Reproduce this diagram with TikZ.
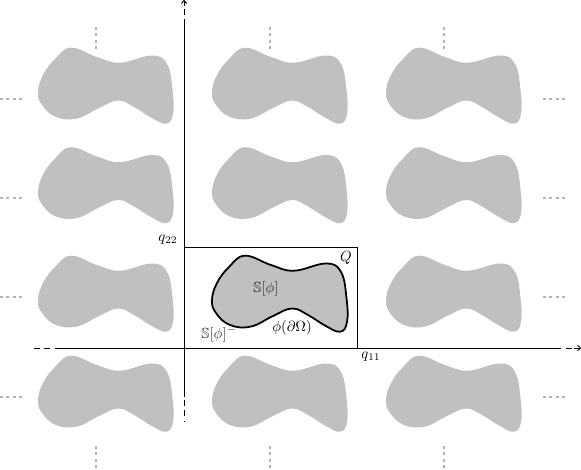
\documentclass[tikz,border=0pt]{standalone}
\usepackage{amssymb}
\usetikzlibrary{arrows.meta}
\definecolor{blobgray}{RGB}{192,192,192}
\definecolor{dotgray}{RGB}{180,180,180}
\tikzset{
  blob/.pic={\path[pic actions] plot[smooth cycle, tension=0.7] coordinates {(-1,42) (4,25) (16,9) (32,-2.3) (58,7) (81,12.7) (113,5.5) (128,14) (133.5,40) (134,64) (127,73.7) (112,67.5) (95,57) (79,50.5) (60,58) (38,68.5) (17,67) (3,55)};},
  greyblob/.style={fill=blobgray},
  mainblob/.style={fill=blobgray, draw=black, line width=1.2pt, line join=round},
  dotsline/.style={dotgray, line width=1.8pt, dash pattern=on 1.8pt off 2.6pt},
  axisline/.style={black, line width=0.6pt},
  axisdash/.style={black, line width=0.6pt, dash pattern=on 4pt off 3pt},
  lbl/.style={inner sep=0pt, font=\normalsize},
  slbl/.style={inner sep=0pt, text=black!80},
}
\begin{document}
\begin{tikzpicture}[x=0.68pt, y=-0.68pt]
\useasboundingbox (0,0) rectangle (581,469);
% periodic copies
\foreach \yy in {50,149.5,358}{
  \foreach \xx in {39,213,387}{
    \pic[greyblob] at (\xx,\yy) {blob};
  }
}
\pic[greyblob] at (39,258) {blob};
\pic[greyblob] at (387,258) {blob};
\pic[mainblob] at (213,258) {blob};
% ellipsis dots
\foreach \xx in {96,270,444}{
  \draw[dotsline] (\xx,27) -- (\xx,49);
  \draw[dotsline] (\xx,446) -- (\xx,468);
}
\foreach \yy in {99,198,297,397}{
  \draw[dotsline] (0,\yy) -- (22,\yy);
  \draw[dotsline] (543,\yy) -- (565,\yy);
}
% cell Q
\coordinate (Qtl) at (184,247);
\coordinate (Qbr) at (357,348);
\draw[axisline] (Qtl) rectangle (Qbr);
% horizontal axis
\coordinate (hL) at (34,348);
\coordinate (hS) at (55,348);
\coordinate (hE) at (561,348);
\coordinate (hD1) at (566,348);
\coordinate (hD2) at (572,348);
\coordinate (hA1) at (574,348);
\coordinate (hA) at (581,348);
\draw[axisdash] (hL) -- (hS);
\draw[axisline] (hS) -- (hE);
\draw[axisline] (hD1) -- (hD2);
\draw[axisline, -{To[length=2.5pt,width=4pt]}] (hA1) -- (hA);
% vertical axis
\coordinate (vA) at (184,0);
\coordinate (vA1) at (184,6);
\coordinate (vD1) at (184,9);
\coordinate (vD2) at (184,15);
\coordinate (vS) at (184,19);
\coordinate (vE) at (184,397);
\coordinate (vL) at (184,422);
\draw[axisline, -{To[length=2.5pt,width=4pt]}] (vA1) -- (vA);
\draw[axisline] (vD1) -- (vD2);
\draw[axisline] (vS) -- (vE);
\draw[axisdash, dash phase=-2pt] (vE) -- (vL);
% labels
\node[lbl] (q22) at (168,240) {$q_{22}$};
\node[lbl] (q11) at (371,357) {$q_{11}$};
\node[lbl] (Qlab) at (346,258) {$Q$};
\node[slbl] (Sphi) at (266,289) {$\mathbb{S}[\phi]$};
\node[slbl] (Sminus) at (219,334) {$\mathbb{S}[\phi]^-$};
\node[lbl] (bdry) at (292,328) {$\phi(\partial\Omega)$};
\end{tikzpicture}
\end{document}
